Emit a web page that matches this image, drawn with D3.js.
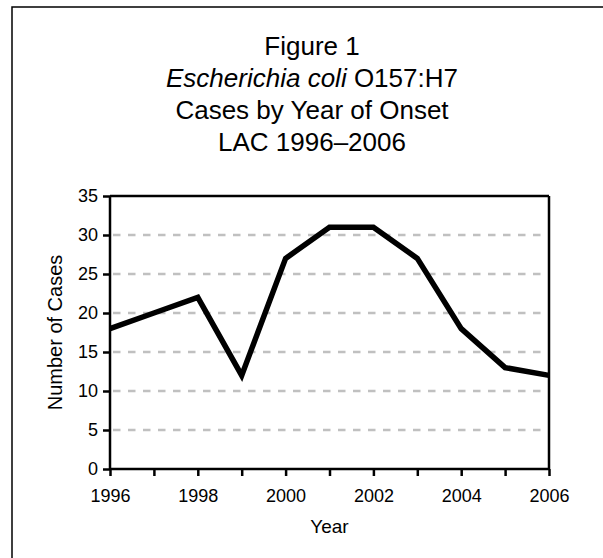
<!DOCTYPE html>
<html><head><meta charset="utf-8">
<script src="https://cdn.jsdelivr.net/npm/d3@7"></script>
<style>html,body{margin:0;padding:0;background:#fff;}svg{display:block;font-family:"Liberation Sans",Arial,sans-serif;}</style>
</head><body>
<svg id="c" width="603" height="558"></svg>
<script>
const years = [1996,1997,1998,1999,2000,2001,2002,2003,2004,2005,2006];
const cases = [18,20,22,12,27,31,31,27,18,13,12];
const yTicks = [0,5,10,15,20,25,30,35];
const gridTicks = [5,10,15,20,25,30];
const xLabelYears = [1996,1998,2000,2002,2004,2006];
const titleLines = ["Figure 1", "ECOLI", "Cases by Year of Onset", "LAC 1996\u20132006"];

const svg = d3.select("#c");
const m = {left:110, right:549, top:196, bottom:469};
const x = d3.scaleLinear().domain([1996,2006]).range([m.left, m.right]);
const y = d3.scaleLinear().domain([0,35]).range([m.bottom, m.top]);

// outer frame (chart area box; right and bottom edges fall outside the picture)
svg.append("path").attr("d","M12,558V7H603")
  .attr("fill","none").attr("stroke","#000").attr("stroke-width",1.5);

// title
const tg = svg.append("g").attr("text-anchor","middle").attr("font-size",26).attr("fill","#000");
const tcx = 312, tBase = [55, 87, 119, 151];
titleLines.forEach((t,i)=>{
  const tx = tg.append("text").attr("x",tcx).attr("y",tBase[i]);
  if (t === "ECOLI") {
    tx.append("tspan").attr("font-style","italic").text("Escherichia coli");
    tx.append("tspan").text(" O157:H7");
  } else tx.text(t);
});

// grid
svg.append("g").selectAll("line").data(gridTicks).join("line")
  .attr("x1",m.left+3).attr("x2",m.right-3)
  .attr("y1",d=>y(d)).attr("y2",d=>y(d))
  .attr("stroke","#c0c0c0").attr("stroke-width",2.5).attr("stroke-dasharray","7.5,7.5");

// frame top and right
svg.append("line").attr("x1",m.left).attr("x2",m.right).attr("y1",m.top).attr("y2",m.top).attr("stroke","#000").attr("stroke-width",2.5);
svg.append("line").attr("x1",m.right).attr("x2",m.right).attr("y1",m.top).attr("y2",m.bottom).attr("stroke","#000").attr("stroke-width",2.5);

// axes
const xAxis = d3.axisBottom(x).tickValues(years).tickSize(7).tickFormat(d=> xLabelYears.includes(d) ? String(d) : "").tickPadding(13);
const gx = svg.append("g").attr("transform",`translate(0,${m.bottom})`).call(xAxis);
const yAxis = d3.axisLeft(y).tickValues(yTicks).tickSize(7).tickPadding(5);
const gy = svg.append("g").attr("transform",`translate(${m.left},0)`).call(yAxis);
[gx,gy].forEach(g=>{
  g.select(".domain").attr("stroke","#000").attr("stroke-width",2.5);
  g.selectAll(".tick line").attr("stroke","#000").attr("stroke-width",2.5);
  g.selectAll(".tick text").attr("font-size",18).attr("fill","#000").attr("font-family","Liberation Sans, Arial, sans-serif");
});
gx.select(".domain").attr("d",`M${m.left},0H${m.right}`);
gy.select(".domain").attr("d",`M0,${m.bottom}V${m.top}`);

// line
const line = d3.line().x((d,i)=>x(years[i])).y(d=>y(d));
svg.append("path").datum(cases).attr("d",line).attr("fill","none")
  .attr("stroke","#000").attr("stroke-width",5.5).attr("stroke-linejoin","miter");

// axis titles
svg.append("text").attr("x",(m.left+m.right)/2).attr("y",533).attr("text-anchor","middle").attr("font-size",19).text("Year");
svg.append("text").attr("transform",`translate(62,${(m.top+m.bottom)/2}) rotate(-90)`).attr("text-anchor","middle").attr("font-size",20).text("Number of Cases");
</script>
</body></html>
